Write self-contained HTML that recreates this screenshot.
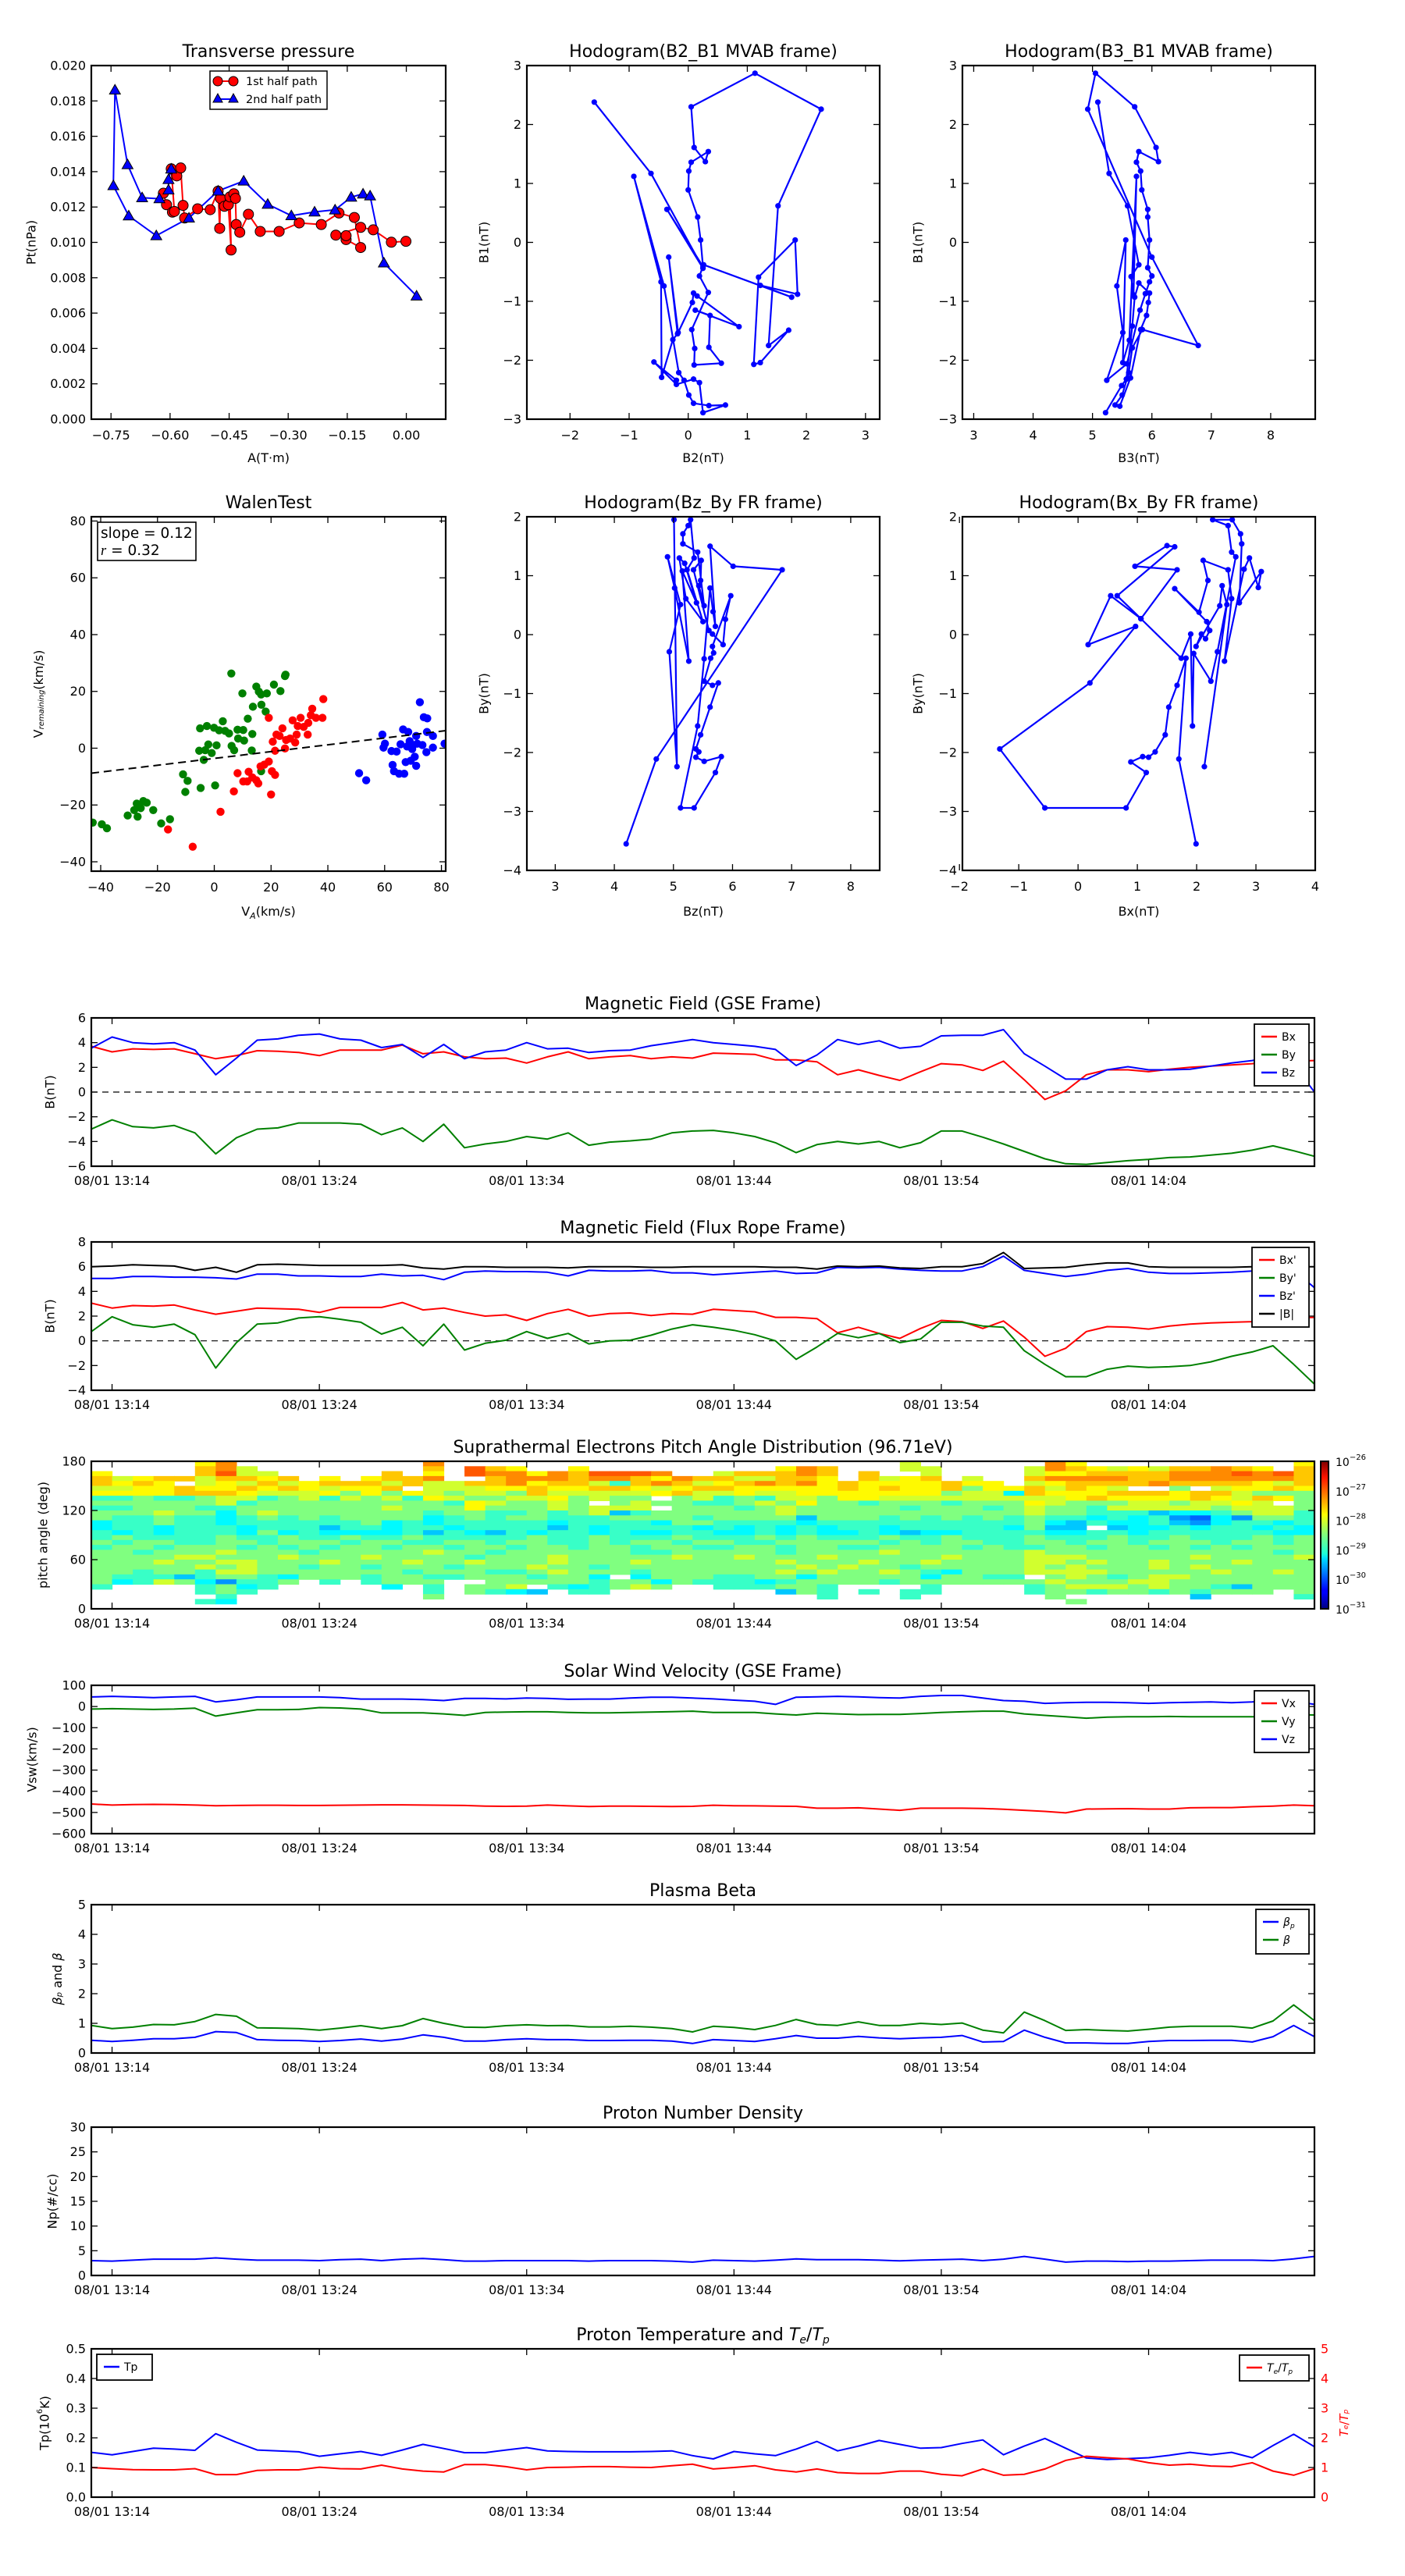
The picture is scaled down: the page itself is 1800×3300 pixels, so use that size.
<!DOCTYPE html>
<html><head><meta charset="utf-8"><title>Flux rope analysis</title>
<style>
html,body{margin:0;padding:0;background:#fff;}
svg{display:block;font-family:"DejaVu Sans","Liberation Sans",sans-serif;}
</style></head>
<body>
<svg id="fig" xmlns="http://www.w3.org/2000/svg" width="1800" height="3300" viewBox="0 0 1800 3300">
<defs>
<linearGradient id="jet" x1="0" y1="1" x2="0" y2="0">
<stop offset="0" stop-color="#00007f"/><stop offset="0.11" stop-color="#0000ff"/><stop offset="0.125" stop-color="#0000ff"/>
<stop offset="0.34" stop-color="#00dcff"/><stop offset="0.375" stop-color="#1effd7"/><stop offset="0.5" stop-color="#7fff7f"/>
<stop offset="0.64" stop-color="#ffff00"/><stop offset="0.66" stop-color="#ffe600"/><stop offset="0.89" stop-color="#ff1400"/><stop offset="1" stop-color="#7f0000"/>
</linearGradient>
</defs>
</svg>
<script>
// ===================== DATA =====================
// Transverse pressure
const tp1A = [-0.617,-0.609,-0.594,-0.589,-0.597,-0.583,-0.573,-0.567,-0.563,-0.530,-0.498,-0.478,-0.474,-0.472,-0.462,-0.452,-0.445,-0.448,-0.438,-0.434,-0.432,-0.423,-0.401,-0.371,-0.323,-0.272,-0.216,-0.171,-0.132,-0.116,-0.153,-0.153,-0.179,-0.116,-0.084,-0.038,-0.001];
const tp1P = [0.01278,0.01213,0.01171,0.01175,0.01416,0.01376,0.01421,0.01209,0.01138,0.01190,0.01185,0.01290,0.01079,0.01249,0.01204,0.01213,0.00957,0.01257,0.01275,0.01249,0.01101,0.01057,0.01159,0.01062,0.01062,0.01110,0.01101,0.01166,0.01141,0.00971,0.01016,0.01038,0.01041,0.01085,0.01071,0.01001,0.01006];
const tp2A = [-0.597,-0.604,-0.604,-0.627,-0.671,-0.708,-0.740,-0.744,-0.705,-0.635,-0.552,-0.478,-0.413,-0.352,-0.292,-0.233,-0.181,-0.140,-0.110,-0.092,-0.057,0.026];
const tp2P = [0.01415,0.01356,0.01297,0.01247,0.01253,0.01440,0.01862,0.01321,0.01150,0.01038,0.01138,0.01291,0.01347,0.01216,0.01151,0.01172,0.01184,0.01256,0.01274,0.01263,0.00884,0.00697];
// Hodogram B2-B1
const h1x = [-1.59,-0.63,0.25,-0.36,0.25,0.21,0.16,0.00,0.01,0.05,0.34,0.29,0.10,0.05,1.13,2.25,1.52,1.36,1.70,1.22,1.11,1.19,1.81,1.85,1.22,1.75,0.26,0.19,0.34,0.06,0.11,0.10,0.56,0.35,0.37,0.12,0.86,0.15,0.09,0.07,-0.17,-0.33,-0.18,-0.26,-0.45,-0.46,-0.92,-0.41,-0.16,-0.07,0.01,0.09,0.35,0.63,0.25,0.19,0.09,-0.20,-0.58,-0.20];
const h1y = [2.38,1.17,-0.44,0.56,-0.41,0.04,0.43,0.89,1.21,1.36,1.54,1.37,1.61,2.30,2.87,2.26,0.62,-1.75,-1.49,-2.04,-2.07,-0.59,0.04,-0.88,-0.73,-0.93,-0.38,-0.57,-0.85,-1.48,-1.80,-2.08,-2.05,-1.78,-1.24,-1.15,-1.43,-0.91,-0.86,-1.02,-1.53,-0.25,-1.55,-1.65,-2.29,-0.67,1.12,-0.74,-2.21,-2.34,-2.59,-2.73,-2.77,-2.76,-2.89,-2.38,-2.32,-2.41,-2.03,-2.34];
// Hodogram B3-B1
const h2x = [5.09,5.28,5.59,5.78,5.65,5.69,5.74,5.62,5.51,5.56,5.41,5.51,5.24,5.58,5.80,5.89,5.96,6.00,5.93,5.96,5.93,5.93,5.83,5.81,5.74,5.78,6.11,6.07,5.71,5.05,4.92,6.00,6.78,5.84,5.67,5.61,5.50,5.38,5.46,5.64,5.81,5.91,5.94,5.96,5.78,5.71,5.67,5.57,5.49,5.22];
const h2y = [2.38,1.17,0.62,-0.38,-0.58,-0.89,1.12,-1.66,-2.04,0.04,-0.74,-1.53,-2.34,-2.06,-1.15,-0.87,-0.67,-0.57,-0.43,0.04,0.43,0.56,0.89,1.21,1.36,1.54,1.37,1.61,2.30,2.87,2.26,-0.25,-1.75,-1.48,-1.79,-2.21,-2.59,-2.76,-2.78,-2.30,-1.48,-1.24,-1.02,-0.86,-0.69,-0.93,-1.42,-2.32,-2.43,-2.89];
// Walen test
const walGx = [-42.8,-39.6,-37.8,-30.5,-28.2,-27.0,-27.3,-25.9,-25.0,-23.8,-21.5,-18.7,-15.6,-11.0,-9.4,-10.2,-4.8,0.3,-3.7,-5.3,-3.2,-0.9,-2.1,0.8,-5.0,-2.6,-0.1,1.7,3.0,3.8,5.2,6.1,7.0,8.2,8.4,10.2,10.5,11.8,13.4,13.2,13.6,16.6,18.1,6.0,9.9,14.8,15.7,16.5,18.5,21.0,23.3,25.1,24.9,16.5];
const walGy = [-26.2,-26.8,-28.2,-23.7,-21.8,-24.1,-19.5,-21.1,-18.6,-19.2,-21.8,-26.5,-25.0,-9.2,-11.5,-15.4,-14.0,-13.1,-4.1,-0.9,-0.7,-1.7,1.3,1.0,7.0,7.8,7.2,6.3,9.5,6.1,5.2,0.8,-0.7,6.5,3.4,6.4,2.7,10.4,5.0,-0.8,14.6,15.3,12.9,26.3,19.3,21.7,19.9,18.9,19.3,22.4,20.1,25.9,25.4,-8.1];
const walRx = [-16.3,-7.6,2.2,6.9,8.2,10.2,11.6,12.1,13.4,14.8,15.5,16.3,17.6,19.2,20.3,21.4,20.0,19.2,20.6,21.4,21.9,24.0,24.9,23.0,25.3,26.7,27.6,28.5,29.0,29.4,30.4,31.5,32.9,33.1,34.5,34.0,35.8,38.1,38.4];
const walRy = [-28.6,-34.7,-22.4,-15.2,-8.8,-11.7,-11.7,-8.3,-10.3,-11.3,-12.4,-6.4,-5.8,-4.7,-8.1,-9.4,-16.3,10.7,2.3,-0.9,4.8,7.0,-0.1,4.3,2.9,3.4,9.8,2.0,4.8,7.8,10.7,7.5,4.8,8.9,13.9,11.6,10.7,10.7,17.3];
const walBx = [51.0,53.5,59.2,60.1,59.6,62.4,62.8,63.3,65.1,66.9,65.6,66.5,68.3,68.8,69.7,70.6,71.1,71.1,72.4,73.8,75.0,74.9,77.0,77.0,74.7,73.3,71.5,69.2,67.4,64.2,81.1,67.9,70.1];
const walBy = [-8.8,-11.3,4.8,1.6,0.2,-1.0,-5.9,-8.1,-9.0,-9.0,1.4,6.6,5.7,2.5,-0.3,-3.0,-6.2,4.3,16.2,10.9,10.5,5.7,4.3,0.2,-1.4,1.1,1.6,-4.4,-4.9,-1.2,1.6,0.6,1.1];
const walenSlope = 0.12;
const walenIntercept = -3.6;
// Hodogram Bz-By FR
const h3x = [5.01,5.06,4.93,5.12,4.90,5.02,5.26,5.15,5.39,5.19,5.10,5.21,5.50,5.23,5.35,5.29,5.25,5.16,5.16,5.41,5.52,5.43,5.46,5.47,5.34,5.60,5.66,5.84,5.88,5.97,5.66,5.68,5.63,5.52,5.66,5.76,5.62,5.46,5.38,5.43,5.38,5.52,5.81,5.71,5.35,5.12,5.41,5.52,5.62,5.67,5.71,5.62,6.01,6.84,4.71,4.20];
const h3y = [1.95,-2.24,-0.29,0.51,1.32,0.79,-0.45,1.08,0.54,1.21,1.30,0.61,0.22,1.10,1.30,1.95,1.85,1.71,1.54,1.40,0.49,0.83,0.92,1.26,1.10,0.07,0.01,-0.17,0.26,0.66,-0.20,-0.31,-0.40,-0.79,-0.86,-0.82,-1.23,-1.70,-1.94,-1.99,-2.08,-2.15,-2.07,-2.34,-2.94,-2.94,-1.55,-0.41,0.79,0.39,0.14,1.50,1.16,1.10,-2.11,-3.55];
// Hodogram Bx-By FR
const h4x = [1.99,1.70,1.82,1.67,1.53,1.47,1.30,1.19,1.09,0.89,1.15,0.81,-0.56,-1.32,0.20,0.97,0.17,0.55,1.06,0.66,1.63,1.50,0.96,1.67,1.06,1.74,1.90,1.93,1.95,2.24,2.35,2.66,2.59,2.53,2.27,2.60,2.74,2.76,2.72,3.09,3.04,2.89,2.80,2.47,2.59,2.53,2.11,2.19,2.04,1.63,2.17,2.22,2.15,2.08,1.99,2.39,2.43,2.51,2.13];
const h4y = [-3.55,-2.11,-0.40,-0.86,-1.23,-1.70,-1.99,-2.08,-2.07,-2.16,-2.34,-2.94,-2.94,-1.94,-0.82,0.14,-0.17,0.66,0.27,0.66,1.49,1.51,1.16,1.10,0.27,-0.40,0.01,-1.55,-0.32,-0.79,-0.29,1.32,1.40,1.85,1.95,1.95,1.71,1.54,0.54,1.07,0.80,1.30,1.11,-0.45,0.61,1.10,1.26,0.92,0.38,0.78,0.22,0.07,-0.07,0.01,-0.20,0.49,0.83,0.51,-2.24];

// ---- time series (minutes relative to 13:14) ----
const timeMin = [-1,0,1,2,3,4,5,6,7,8,9,10,11,12,13,14,15,16,17,18,19,20,21,22,23,24,25,26,27,28,29,30,31,32,33,34,35,36,37,38,39,40,41,42,43,44,45,46,47,48,49,50,51,52,53,54,55,56,57,58];
const timeTickMin = [0,10,20,30,40,50];
const timeTickLabels = ["08/01 13:14","08/01 13:24","08/01 13:34","08/01 13:44","08/01 13:54","08/01 14:04"];
const gseBx = [3.7,3.25,3.5,3.45,3.5,3.1,2.7,2.95,3.35,3.3,3.2,2.95,3.4,3.4,3.4,3.8,3.1,3.25,2.85,2.7,2.75,2.35,2.85,3.25,2.7,2.85,2.95,2.7,2.85,2.75,3.15,3.1,3.05,2.6,2.6,2.45,1.4,1.8,1.35,0.95,1.65,2.3,2.2,1.75,2.5,1.0,-0.6,0.1,1.4,1.8,1.8,1.65,1.85,2.0,2.1,2.2,2.3,2.45,2.5,2.55];
const gseBy = [-3.0,-2.25,-2.8,-2.9,-2.7,-3.3,-5.0,-3.7,-3.0,-2.9,-2.5,-2.5,-2.5,-2.6,-3.45,-2.9,-4.0,-2.6,-4.5,-4.2,-4.0,-3.6,-3.8,-3.3,-4.3,-4.05,-3.95,-3.8,-3.3,-3.15,-3.1,-3.3,-3.6,-4.1,-4.9,-4.25,-4.0,-4.2,-4.0,-4.5,-4.1,-3.15,-3.15,-3.65,-4.2,-4.8,-5.4,-5.8,-5.85,-5.7,-5.55,-5.45,-5.3,-5.25,-5.1,-4.95,-4.7,-4.35,-4.75,-5.2];
const gseBz = [3.55,4.45,4.0,3.9,4.0,3.4,1.4,2.75,4.2,4.3,4.6,4.7,4.3,4.2,3.6,3.85,2.8,3.85,2.7,3.25,3.4,4.0,3.5,3.55,3.2,3.35,3.4,3.75,4.0,4.25,4.0,3.85,3.7,3.45,2.15,3.0,4.25,3.85,4.15,3.55,3.7,4.55,4.6,4.6,5.05,3.1,2.1,1.05,1.05,1.8,2.05,1.8,1.8,1.85,2.1,2.35,2.55,2.9,2.25,0.0];
const frBx = [3.05,2.65,2.85,2.8,2.9,2.5,2.15,2.4,2.65,2.6,2.55,2.3,2.7,2.7,2.7,3.1,2.5,2.65,2.3,2.0,2.1,1.65,2.2,2.55,2.0,2.2,2.25,2.05,2.2,2.15,2.55,2.45,2.35,1.9,1.9,1.8,0.65,1.1,0.6,0.2,1.0,1.65,1.55,1.0,1.6,0.3,-1.25,-0.6,0.75,1.15,1.1,0.95,1.2,1.35,1.45,1.5,1.55,1.7,1.85,1.9];
const frBy = [0.75,1.95,1.3,1.1,1.35,0.5,-2.2,-0.15,1.35,1.45,1.85,1.95,1.75,1.5,0.55,1.1,-0.4,1.35,-0.75,-0.2,0.05,0.75,0.2,0.6,-0.25,0.0,0.05,0.45,0.95,1.3,1.1,0.85,0.5,0.0,-1.5,-0.5,0.6,0.25,0.6,-0.15,0.15,1.5,1.5,1.2,1.1,-0.8,-1.9,-2.9,-2.9,-2.3,-2.05,-2.15,-2.1,-2.0,-1.7,-1.25,-0.9,-0.4,-1.9,-3.5];
const frBz = [5.05,5.05,5.2,5.2,5.15,5.15,5.1,5.0,5.4,5.4,5.25,5.25,5.2,5.2,5.4,5.25,5.3,4.95,5.55,5.65,5.6,5.6,5.55,5.25,5.7,5.65,5.65,5.7,5.5,5.5,5.35,5.45,5.55,5.65,5.45,5.5,5.95,5.9,5.95,5.8,5.7,5.65,5.65,6.0,6.85,5.7,5.45,5.2,5.4,5.7,5.85,5.55,5.45,5.45,5.5,5.55,5.65,5.65,5.7,4.3];
const frBt = [6.0,6.05,6.15,6.1,6.05,5.7,5.95,5.55,6.15,6.2,6.15,6.1,6.1,6.1,6.1,6.15,5.9,5.8,6.0,6.0,5.95,5.95,5.95,5.9,6.0,6.0,6.0,5.95,5.95,6.0,6.0,6.0,6.0,5.95,5.95,5.8,6.05,6.0,6.05,5.9,5.85,6.0,6.0,6.25,7.15,5.85,5.9,5.95,6.15,6.3,6.3,6.0,5.95,5.95,5.95,5.95,6.0,6.0,6.0,6.0];
const vswX = [-460,-465,-463,-462,-463,-465,-468,-467,-466,-466,-467,-467,-466,-465,-464,-464,-465,-466,-467,-470,-471,-470,-465,-469,-472,-470,-470,-471,-472,-471,-466,-468,-469,-470,-471,-480,-480,-478,-484,-490,-480,-480,-480,-481,-485,-490,-495,-502,-484,-483,-482,-484,-484,-478,-477,-477,-473,-470,-465,-468];
const vswY = [-12,-10,-12,-14,-12,-8,-45,-30,-15,-15,-14,-5,-7,-12,-30,-30,-30,-35,-42,-28,-26,-25,-25,-28,-30,-30,-28,-26,-24,-22,-28,-28,-28,-35,-40,-32,-35,-38,-37,-37,-33,-28,-25,-22,-22,-35,-42,-48,-55,-50,-48,-48,-47,-48,-48,-48,-48,-48,-38,-40];
const vswZ = [45,48,45,42,45,48,22,32,45,45,45,45,42,35,35,35,33,28,38,38,36,40,38,34,35,35,40,44,44,40,36,30,25,10,44,46,48,46,42,40,48,52,52,40,28,25,15,18,20,20,18,15,18,20,22,18,22,30,25,10];
const betaTot = [0.93,0.82,0.87,0.96,0.95,1.06,1.3,1.24,0.85,0.84,0.82,0.77,0.84,0.92,0.82,0.92,1.16,1.0,0.87,0.86,0.92,0.95,0.92,0.93,0.88,0.88,0.9,0.87,0.82,0.71,0.9,0.86,0.79,0.93,1.13,0.96,0.93,1.05,0.93,0.93,1.0,0.96,1.01,0.77,0.68,1.38,1.09,0.76,0.79,0.76,0.74,0.8,0.87,0.9,0.9,0.9,0.84,1.08,1.62,1.09];
const betaP = [0.43,0.39,0.43,0.48,0.48,0.53,0.72,0.69,0.45,0.43,0.42,0.39,0.42,0.47,0.4,0.47,0.61,0.53,0.4,0.4,0.45,0.48,0.45,0.45,0.42,0.42,0.43,0.43,0.4,0.32,0.45,0.42,0.39,0.48,0.59,0.5,0.5,0.56,0.51,0.48,0.51,0.53,0.59,0.37,0.39,0.77,0.53,0.34,0.34,0.32,0.32,0.39,0.42,0.42,0.43,0.43,0.37,0.55,0.93,0.55];
const npDens = [3.0,2.9,3.1,3.3,3.3,3.3,3.55,3.3,3.1,3.1,3.1,3.0,3.2,3.3,3.0,3.3,3.45,3.2,2.9,2.9,3.0,3.0,3.0,3.0,2.9,3.0,3.0,3.0,2.9,2.7,3.1,3.0,2.9,3.1,3.35,3.2,3.2,3.2,3.1,2.95,3.1,3.2,3.3,3.0,3.3,3.85,3.3,2.7,2.9,2.9,2.8,2.9,2.9,3.0,3.1,3.1,3.1,3.0,3.35,3.85];
const tempP = [0.151,0.143,0.154,0.165,0.162,0.158,0.214,0.185,0.159,0.156,0.153,0.138,0.146,0.154,0.141,0.159,0.178,0.164,0.15,0.15,0.159,0.167,0.156,0.154,0.153,0.153,0.153,0.154,0.156,0.14,0.129,0.154,0.146,0.14,0.162,0.188,0.156,0.172,0.191,0.178,0.165,0.167,0.181,0.193,0.143,0.172,0.198,0.165,0.132,0.127,0.13,0.133,0.141,0.151,0.143,0.151,0.133,0.174,0.212,0.17];
const teTp = [1.0,0.96,0.93,0.92,0.92,0.96,0.76,0.76,0.9,0.92,0.92,1.01,0.96,0.95,1.08,0.95,0.88,0.85,1.1,1.1,1.03,0.92,1.0,1.01,1.03,1.03,1.01,1.0,1.06,1.11,0.95,1.0,1.06,0.92,0.85,0.95,0.83,0.8,0.8,0.88,0.88,0.77,0.72,0.95,0.74,0.77,0.95,1.24,1.38,1.33,1.29,1.16,1.08,1.11,1.05,1.03,1.16,0.88,0.74,0.96];
// Pitch angle distribution: rows from 174-180 deg (top) down to 0-6 deg; 59 time bins; '.' = no data
const padRows = [
".....79...........9..............................6...........97...............7",
];
const padRowsData = [
".....".concat("79...",".....",".9...",".....",".....",".....","....6",".....",".97..",".....","...7"),
".....".concat("896..",".....",".8.A8","7..7.",".....","...79","8...6","6....","69876","76889","87.8"),
"7....".concat("8A66.","....8",".7.A9","9798A","AA9..","68889","8.8..","6....","67788","88999","A9A8"),
"86788".concat("68878",".7.78","89..8","99989","98798","86688","7.867","8.6..","89999","88999","9998"),
"8787.".concat("67686","78886","86688","97886","48986","78989","78777","7877.","67888","89888","8768"),
"66778".concat("77878","76778",".6667","78778","87678","87777","78787","78577","86876","..5.6","7787"),
"77778".concat("88766","67575","76566","58666","66786","67667","77777","75663","87778","88788","6555"),
"44544".concat("56645","64656","47655","66756","55.56","45466","57766","66666","66787","77787","6875"),
"55555".concat("56455","55555","55476","5565.","56554","45657","55455","54555","76555","66566","76.5"),
"44555".concat("44555","55556","55575","55656","66.55","54565","55554","55545","65546","66665","6665"),
"55565".concat("53565","55555","54554","45456","24555","55565","55555","55555","65544","42334","5664"),
"54454".concat("43454","54555","53454","55444","55554","55552","55545","45454","54434","34103","1554"),
"34454".concat("43444","44453","43444","44344","44355","44443","44444","44444","53243","34213","4434"),
"34434".concat("44344","42443","44344","44243","44443","43434","34434","44443","522.2","33434","4343"),
"43434".concat("44353","43333","42432","43443","43344","33434","33432","33444","43344","34444","4433"),
"45444".concat("45445","44544","54444","45445","44454","44545","44454","45444","54445","44544","4545"),
"54554".concat("45545","55455","44554","55445","45545","54455","55545","45544","55455","45554","5545"),
"45545".concat("55454","54554","55455","45545","54554","45545","54455","55454","45545","54545","4555"),
"55455".concat("56555","45555","56554","55555","54455","55545","55565","55555","65555","55555","5545"),
"55556".concat("65556","55565","55545","55655","55565","56555","65555","56555","66655","55565","5556"),
"55565".concat("56655","56555","65565","55655","56555","55565","55655","65555","66565","56555","6555"),
"55555".concat("65655","45545","55455","56554","55555","55556","56554","55555","65655","56565","5555"),
"55455".concat("46655","55555","45554","45655","54555","55565","65565","43555","66665","55556","5565"),
"54442".concat("45543","55545","54455","54553",".3555","44553","55555","35544",".5654","56655","5555"),
"53465".concat("31445",".4.45","55..5","55554","55354","44345","55545","55555","56555","66555","5555"),
"4....".concat("4534.","....3",".4.55","6.434","565..","44455","4....","4....","45666","56554","2555"),
".....".concat("454..",".....",".4.54","32.44",".....","...25","4.4.4","4....","45545","54545","55.5"),
".....".concat(".4...",".....",".5...",".....",".....",".....","4...4",".....",".5...","...2.","...4"),
".....".concat("43...",".....",".....",".....",".....",".....",".....",".....","..5..",".....","...."),
".....".concat(".....",".....",".....",".....",".....",".....",".....",".....",".....",".....","....")
];
// log10 of flux for each encoded level
const padLevelCodes = ["0","1","2","3","4","5","6","7","8","9","A"];
const padLevelLog = [-29.9,-29.65,-29.4,-29.15,-28.85,-28.5,-28.1,-27.85,-27.6,-27.3,-27.05];
const cbTickExp = [-26,-27,-28,-29,-30,-31];

// ===================== DRAWING =====================
const NS = 'http://www.w3.org/2000/svg';
const svg = document.getElementById('fig');
function mk(tag, attrs, parent){
  const e = document.createElementNS(NS, tag);
  for (const k in attrs) e.setAttribute(k, attrs[k]);
  (parent || svg).appendChild(e);
  return e;
}
const MINUS = '\u2212';
function fmtNum(v, d){ const s = v.toFixed(d); return s.replace('-', MINUS); }

let clipId = 0;
function makeAxes(name, x, y, w, h, xr, yr){
  const g = mk('g', {});
  
  
  const id = 'clip' + (clipId++);
  const cp = mk('clipPath', {id: id}, g);
  mk('rect', {x: x, y: y, width: w, height: h}, cp);
  const plot = mk('g', {'clip-path': 'url(#' + id + ')'}, g);
  
  
  return {g: g, plot: plot, x: x, y: y, w: w, h: h,
    sx: v => x + (v - xr[0]) / (xr[1] - xr[0]) * w,
    sy: v => y + h - (v - yr[0]) / (yr[1] - yr[0]) * h};
}
function frame(ax){
  const r = mk('rect', {x: ax.x, y: ax.y, width: ax.w, height: ax.h, fill: 'none', stroke: '#000', 'stroke-width': 2.2}, ax.g);
  
  
}
function yTicks(ax, vals, labels, opts){
  opts = opts || {};
  const L = 8;
  vals.forEach((v, i) => {
    const py = ax.sy(v);
    mk('line', {x1: ax.x, y1: py, x2: ax.x + L, y2: py, stroke: '#000', 'stroke-width': 1.3}, ax.g);
    mk('line', {x1: ax.x + ax.w, y1: py, x2: ax.x + ax.w - L, y2: py, stroke: '#000', 'stroke-width': 1.3}, ax.g);
    if (labels) {
      const t = mk('text', {x: ax.x - 7, y: py, 'text-anchor': 'end', 'dominant-baseline': 'central', 'font-size': opts.fs || 16, fill: '#000'}, ax.g);
      
      
      t.textContent = labels[i];
    }
  });
}
function xTicks(ax, vals, labels, opts){
  opts = opts || {};
  const L = 8;
  vals.forEach((v, i) => {
    const px = ax.sx(v);
    mk('line', {x1: px, y1: ax.y + ax.h, x2: px, y2: ax.y + ax.h - L, stroke: '#000', 'stroke-width': 1.3}, ax.g);
    mk('line', {x1: px, y1: ax.y, x2: px, y2: ax.y + L, stroke: '#000', 'stroke-width': 1.3}, ax.g);
    if (labels) {
      const t = mk('text', {x: px, y: ax.y + ax.h + (opts.dy || 24), 'text-anchor': 'middle', 'font-size': opts.fs || 16, fill: '#000'}, ax.g);
      
      
      t.textContent = labels[i];
    }
  });
}
function title(ax, txt){
  const t = mk('text', {x: ax.x + ax.w / 2, y: ax.y - 11, 'text-anchor': 'middle', 'font-size': 22, fill: '#000'}, ax.g);
  
  
  t.textContent = txt;
  return t;
}
function xLabel(ax, txt, y){
  const t = mk('text', {x: ax.x + ax.w / 2, y: y, 'text-anchor': 'middle', 'font-size': 16, fill: '#000'}, ax.g);
  
  
  t.textContent = txt;
  return t;
}
function yLabel(ax, txt, x, color){
  const cy = ax.y + ax.h / 2;
  const t = mk('text', {x: x, y: cy, 'text-anchor': 'middle', 'dominant-baseline': 'central', 'font-size': 16, fill: color || '#000', transform: 'rotate(-90 ' + x + ' ' + cy + ')'}, ax.g);
  
  
  t.textContent = txt;
  return t;
}
function polyline(ax, xs, ys, color, name, w){
  let d = '';
  xs.forEach((v, i) => { d += (i ? 'L' : 'M') + ax.sx(v).toFixed(1) + ' ' + ax.sy(ys[i]).toFixed(1); });
  const p = mk('path', {d: d, fill: 'none', stroke: color, 'stroke-width': w || 2, 'stroke-linejoin': 'round'}, ax.plot);
  
  
  return p;
}
function dots(ax, xs, ys, color, r, name, stroke){
  const g = mk('g', {}, ax.plot);
  
  
  xs.forEach((v, i) => {
    const c = mk('circle', {cx: ax.sx(v), cy: ax.sy(ys[i]), r: r, fill: color, stroke: stroke || 'none', 'stroke-width': 1}, g);
    
    
  });
}
function tris(ax, xs, ys, color, s, name){
  const g = mk('g', {}, ax.plot);
  
  
  xs.forEach((v, i) => {
    const cx = ax.sx(v), cy = ax.sy(ys[i]);
    const p = mk('polygon', {points: cx + ',' + (cy - s) + ' ' + (cx - s) + ',' + (cy + s * 0.75) + ' ' + (cx + s) + ',' + (cy + s * 0.75), fill: color, stroke: '#000', 'stroke-width': 1}, g);
    
    
  });
}
function range(a, b, s){ const r = []; for (let v = a; v <= b + 1e-9; v += s) r.push(Math.round(v * 1000) / 1000); return r; }

// ---------- Transverse pressure ----------
{
  const ax = makeAxes('transverse-pressure-chart', 117, 84, 454, 453, [-0.8, 0.1], [0, 0.020]);
  const yt = range(0, 0.020, 0.002);
  yTicks(ax, yt, yt.map(v => v.toFixed(3)));
  const xt = [-0.75, -0.60, -0.45, -0.30, -0.15, 0.00];
  xTicks(ax, xt, xt.map(v => fmtNum(v, 2)), {dy: 26});
  polyline(ax, tp1A, tp1P, '#ff0000', 'first-half-path-line', 2);
  polyline(ax, tp2A, tp2P, '#0000ff', 'second-half-path-line', 2);
  dots(ax, tp1A, tp1P, '#ff0000', 6.5, 'first-half-path', '#000');
  tris(ax, tp2A, tp2P, '#0000ff', 7, 'second-half-path');
  frame(ax);
  title(ax, 'Transverse pressure');
  xLabel(ax, 'A(T\u00b7m)', 592);
  yLabel(ax, 'Pt(nPa)', 40);
  const lg = mk('g', {}, ax.g);
  
  
  mk('rect', {x: 269, y: 91, width: 150, height: 49, fill: '#fff', stroke: '#000', 'stroke-width': 1.5}, lg);
  mk('line', {x1: 279, y1: 104, x2: 299, y2: 104, stroke: '#ff0000', 'stroke-width': 2}, lg);
  mk('circle', {cx: 279, cy: 104, r: 6, fill: '#ff0000', stroke: '#000'}, lg);
  mk('circle', {cx: 299, cy: 104, r: 6, fill: '#ff0000', stroke: '#000'}, lg);
  const t1 = mk('text', {x: 315, y: 109, 'font-size': 14.5}, lg);
  
  
  t1.textContent = '1st half path';
  mk('line', {x1: 279, y1: 127, x2: 299, y2: 127, stroke: '#0000ff', 'stroke-width': 2}, lg);
  mk('polygon', {points: '279,120 273,131 285,131', fill: '#0000ff', stroke: '#000'}, lg);
  mk('polygon', {points: '299,120 293,131 305,131', fill: '#0000ff', stroke: '#000'}, lg);
  const t2 = mk('text', {x: 315, y: 132, 'font-size': 14.5}, lg);
  
  
  t2.textContent = '2nd half path';
}
// ---------- Hodograms ----------
function hodo(name, x, y, xr, yr, xt, yt, xs, ys, ttl, xl, yl, xlY, ylX, tickDy){
  const ax = makeAxes(name, x, y, 452, 453, xr, yr);
  yTicks(ax, yt, yt.map(v => fmtNum(v, 0)));
  xTicks(ax, xt, xt.map(v => fmtNum(v, 0)), {dy: tickDy});
  polyline(ax, xs, ys, '#0000ff', 'hodogram-path', 2.2);
  dots(ax, xs, ys, '#0000ff', 3.6, 'hodogram');
  frame(ax);
  title(ax, ttl);
  xLabel(ax, xl, xlY);
  yLabel(ax, yl, ylX);
}
hodo('hodogram-b2-b1-chart', 675, 84, [-2.73, 3.24], [-3, 3], [-2,-1,0,1,2,3], [-3,-2,-1,0,1,2,3], h1x, h1y, 'Hodogram(B2_B1 MVAB frame)', 'B2(nT)', 'B1(nT)', 592, 620, 26);
hodo('hodogram-b3-b1-chart', 1233, 84, [2.81, 8.75], [-3, 3], [3,4,5,6,7,8], [-3,-2,-1,0,1,2,3], h2x, h2y, 'Hodogram(B3_B1 MVAB frame)', 'B3(nT)', 'B1(nT)', 592, 1176, 26);
hodo('hodogram-bz-by-chart', 675, 662, [2.52, 8.49], [-4, 2], [3,4,5,6,7,8], [-4,-3,-2,-1,0,1,2], h3x, h3y, 'Hodogram(Bz_By FR frame)', 'Bz(nT)', 'By(nT)', 1173, 620, 26);
hodo('hodogram-bx-by-chart', 1233, 662, [-1.95, 4.0], [-4, 2], [-2,-1,0,1,2,3,4], [-4,-3,-2,-1,0,1,2], h4x, h4y, 'Hodogram(Bx_By FR frame)', 'Bx(nT)', 'By(nT)', 1173, 1176, 26);

// ---------- Walen test ----------
{
  const ax = makeAxes('walen-test-chart', 117, 662, 454, 454, [-43.3, 81.5], [-43.3, 81.5]);
  const t = range(-40, 80, 20);
  yTicks(ax, t, t.map(v => fmtNum(v, 0)));
  xTicks(ax, t, t.map(v => fmtNum(v, 0)), {dy: 26});
  dots(ax, walGx, walGy, '#008000', 5.2, 'walen-green');
  dots(ax, walRx, walRy, '#ff0000', 5.2, 'walen-red');
  dots(ax, walBx, walBy, '#0000ff', 5.2, 'walen-blue');
  const fx = [-43.3, 81.5];
  const fy = fx.map(v => walenSlope * v + walenIntercept);
  const fl = polyline(ax, fx, fy, '#000', 'fit-line', 2);
  fl.setAttribute('stroke-dasharray', '10 6');
  frame(ax);
  title(ax, 'WalenTest');
  const xl = xLabel(ax, '', 1173);
  xl.innerHTML = 'V<tspan font-style="italic" font-size="11" dy="4">A</tspan><tspan dy="-4">(km/s)</tspan>';
  const yl = yLabel(ax, '', 49);
  yl.innerHTML = 'V<tspan font-style="italic" font-size="10" dy="4">remaining</tspan><tspan dy="-4">(km/s)</tspan>';
  const box = mk('g', {}, ax.g);
  
  
  mk('rect', {x: 125, y: 669, width: 126, height: 49, fill: '#fff', stroke: '#000', 'stroke-width': 1.6}, box);
  const s1 = mk('text', {x: 129, y: 689, 'font-size': 18.5}, box);
  
  
  s1.textContent = 'slope = 0.12';
  const s2 = mk('text', {x: 129, y: 711, 'font-size': 18.5}, box);
  
  
  s2.innerHTML = '<tspan font-style="italic" font-family="Liberation Serif, serif">r</tspan> = 0.32';
}

// ---------- time series panels ----------
const TX = 117, TW = 1567, TH = 190;
function tsAxes(name, y, yr){
  const ax = makeAxes(name, TX, y, TW, TH, [-1, 58], yr);
  xTicks(ax, timeTickMin, timeTickLabels, {dy: 24});
  return ax;
}
function legend(ax, x, y, w, entries, fs){
  const g = mk('g', {}, ax.g);
  
  
  const rowH = entries.length > 1 ? 23 : 0;
  const h = entries.length * 23 + 10;
  mk('rect', {x: x, y: y, width: w, height: h, fill: '#fff', stroke: '#000', 'stroke-width': 1.8}, g);
  entries.forEach((e, i) => {
    const cy = y + 16 + i * 23;
    mk('line', {x1: x + 9, y1: cy, x2: x + 29, y2: cy, stroke: e[1], 'stroke-width': 2.5}, g);
    const t = mk('text', {x: x + 35, y: cy + 5, 'font-size': 14}, g);
    
    
    t.innerHTML = e[0];
  });
  return g;
}
function zeroLine(ax){
  const l = mk('line', {x1: ax.x, y1: ax.sy(0), x2: ax.x + ax.w, y2: ax.sy(0), stroke: '#000', 'stroke-width': 1.2, 'stroke-dasharray': '8 6'}, ax.plot);
  
  
}
// GSE
{
  const ax = tsAxes('magnetic-field-gse-chart', 1304, [-6, 6]);
  const yt = range(-6, 6, 2);
  yTicks(ax, yt, yt.map(v => fmtNum(v, 0)));
  zeroLine(ax);
  polyline(ax, timeMin, gseBx, '#ff0000', 'bx-line');
  polyline(ax, timeMin, gseBy, '#008000', 'by-line');
  polyline(ax, timeMin, gseBz, '#0000ff', 'bz-line');
  legend(ax, 1607, 1312, 70, [['Bx', '#ff0000'], ['By', '#008000'], ['Bz', '#0000ff']]);
  frame(ax);
  title(ax, 'Magnetic Field (GSE Frame)');
  yLabel(ax, 'B(nT)', 64);
}
// Flux rope
{
  const ax = tsAxes('magnetic-field-fr-chart', 1591, [-4, 8]);
  const yt = range(-4, 8, 2);
  yTicks(ax, yt, yt.map(v => fmtNum(v, 0)));
  zeroLine(ax);
  polyline(ax, timeMin, frBx, '#ff0000', 'bx-prime-line');
  polyline(ax, timeMin, frBy, '#008000', 'by-prime-line');
  polyline(ax, timeMin, frBz, '#0000ff', 'bz-prime-line');
  polyline(ax, timeMin, frBt, '#000000', 'btotal-line');
  legend(ax, 1604, 1598, 73, [["Bx'", '#ff0000'], ["By'", '#008000'], ["Bz'", '#0000ff'], ['|B|', '#000']]);
  frame(ax);
  title(ax, 'Magnetic Field (Flux Rope Frame)');
  yLabel(ax, 'B(nT)', 64);
}
// PAD
function jet(v){
  const c = x => Math.max(0, Math.min(1, x));
  const r = c(1.5 - Math.abs(4 * v - 3)), g = c(1.5 - Math.abs(4 * v - 2)), b = c(1.5 - Math.abs(4 * v - 1));
  return 'rgb(' + Math.round(r * 255) + ',' + Math.round(g * 255) + ',' + Math.round(b * 255) + ')';
}
{
  const ax = makeAxes('pitch-angle-chart', TX, 1872, TW, 189, [0, 59], [0, 180]);
  const nRows = padRowsData.length;
  const binDeg = 180 / nRows;
  const hm = mk('g', {}, ax.plot);
  
  
  padRowsData.forEach((row, ri) => {
    const hiDeg = 180 - ri * binDeg;
    for (let ci = 0; ci < row.length && ci < 59; ci++) {
      const ch = row[ci];
      const li = padLevelCodes.indexOf(ch);
      if (li < 0) continue;
      const lg = padLevelLog[li];
      const v = (lg - (-31)) / 5;
      const x0 = ax.sx(ci), x1 = ax.sx(ci + 1);
      const y0 = ax.sy(hiDeg), y1 = ax.sy(hiDeg - binDeg);
      const cell = mk('rect', {x: x0, y: y0, width: x1 - x0 + 0.6, height: y1 - y0 + 0.6, fill: jet(v)}, hm);
      
      
    }
  });
  // time ticks (same time axis, shifted so that column index 0 = -1 min)
  timeTickMin.forEach((m, i) => {
    const px = TX + (m + 1) / 59 * TW;
    mk('line', {x1: px, y1: ax.y + ax.h, x2: px, y2: ax.y + ax.h - 8, stroke: '#000', 'stroke-width': 1.3}, ax.g);
    mk('line', {x1: px, y1: ax.y, x2: px, y2: ax.y + 8, stroke: '#000', 'stroke-width': 1.3}, ax.g);
    const t = mk('text', {x: px, y: ax.y + ax.h + 24, 'text-anchor': 'middle', 'font-size': 16}, ax.g);
    
    
    t.textContent = timeTickLabels[i];
  });
  const yt = [0, 60, 120, 180];
  yTicks(ax, yt, yt.map(v => String(v)));
  frame(ax);
  title(ax, 'Suprathermal Electrons Pitch Angle Distribution (96.71eV)');
  yLabel(ax, 'pitch angle (deg)', 55);
  // colorbar
  const cb = mk('g', {}, svg);
  
  
  mk('rect', {x: 1692, y: 1872, width: 10, height: 189, fill: 'url(#jet)', stroke: '#000', 'stroke-width': 2}, cb);
  cbTickExp.forEach((e, i) => {
    const py = 1872 + i * 189 / (cbTickExp.length - 1);
    const t = mk('text', {x: 1711, y: py + 6, 'font-size': 14}, cb);
    
    
    t.innerHTML = '10<tspan font-size="10" dy="-8">' + MINUS + (-e) + '</tspan>';
  });
}
// Vsw
{
  const ax = tsAxes('solar-wind-velocity-chart', 2159, [-600, 100]);
  const yt = range(-600, 100, 100);
  yTicks(ax, yt, yt.map(v => fmtNum(v, 0)));
  polyline(ax, timeMin, vswX, '#ff0000', 'vx-line');
  polyline(ax, timeMin, vswY, '#008000', 'vy-line');
  polyline(ax, timeMin, vswZ, '#0000ff', 'vz-line');
  legend(ax, 1607, 2166, 70, [['Vx', '#ff0000'], ['Vy', '#008000'], ['Vz', '#0000ff']]);
  frame(ax);
  title(ax, 'Solar Wind Velocity (GSE Frame)');
  yLabel(ax, 'Vsw(km/s)', 41);
}
// Beta
{
  const ax = tsAxes('plasma-beta-chart', 2440, [0, 5]);
  const yt = range(0, 5, 1);
  yTicks(ax, yt, yt.map(v => fmtNum(v, 0)));
  polyline(ax, timeMin, betaTot, '#008000', 'beta-line');
  polyline(ax, timeMin, betaP, '#0000ff', 'beta-p-line');
  const lg = legend(ax, 1609, 2446, 68, [['<tspan font-style="italic">\u03b2</tspan><tspan font-style="italic" font-size="9" dy="3">p</tspan>', '#0000ff'], ['<tspan font-style="italic">\u03b2</tspan>', '#008000']]);
  lg.querySelector('rect').setAttribute('height', 57);
  frame(ax);
  title(ax, 'Plasma Beta');
  const yl = yLabel(ax, '', 73);
  yl.innerHTML = '<tspan font-style="italic">\u03b2</tspan><tspan font-style="italic" font-size="10" dy="3">p</tspan><tspan dy="-3"> and </tspan><tspan font-style="italic">\u03b2</tspan>';
}
// Np
{
  const ax = tsAxes('proton-density-chart', 2725, [0, 30]);
  const yt = range(0, 30, 5);
  yTicks(ax, yt, yt.map(v => fmtNum(v, 0)));
  polyline(ax, timeMin, npDens, '#0000ff', 'np-line');
  frame(ax);
  title(ax, 'Proton Number Density');
  yLabel(ax, 'Np(#/cc)', 67);
}
// Tp and Te/Tp
{
  const ax = tsAxes('proton-temperature-chart', 3009, [0, 0.5]);
  const yt = range(0, 0.5, 0.1);
  yTicks(ax, yt, yt.map(v => v.toFixed(1)));
  polyline(ax, timeMin, tempP, '#0000ff', 'tp-line');
  const sy2 = v => ax.y + ax.h - v / 5 * ax.h;
  let d = '';
  timeMin.forEach((m, i) => { d += (i ? 'L' : 'M') + ax.sx(m).toFixed(1) + ' ' + sy2(teTp[i]).toFixed(1); });
  const rl = mk('path', {d: d, fill: 'none', stroke: '#ff0000', 'stroke-width': 2}, ax.plot);
  
  
  [0, 1, 2, 3, 4, 5].forEach(v => {
    const t = mk('text', {x: ax.x + ax.w + 8, y: sy2(v), 'dominant-baseline': 'central', 'font-size': 16, fill: '#ff0000'}, ax.g);
    
    
    t.textContent = String(v);
  });
  legend(ax, 124, 3016, 71, [['Tp', '#0000ff']]);
  const l2 = legend(ax, 1588, 3017, 89, [['<tspan font-style="italic">T</tspan><tspan font-style="italic" font-size="9" dy="3">e</tspan><tspan dy="-3">/</tspan><tspan font-style="italic">T</tspan><tspan font-style="italic" font-size="9" dy="3">p</tspan>', '#ff0000']]);
  frame(ax);
  const tt = title(ax, '');
  tt.innerHTML = 'Proton Temperature and <tspan font-style="italic">T</tspan><tspan font-style="italic" font-size="14" dy="4">e</tspan><tspan dy="-4">/</tspan><tspan font-style="italic">T</tspan><tspan font-style="italic" font-size="14" dy="4">p</tspan>';
  const yl = yLabel(ax, '', 57);
  yl.innerHTML = 'Tp(10<tspan font-size="10" dy="-6">6</tspan><tspan dy="6">K)</tspan>';
  const yr = yLabel(ax, '', 1722, '#ff0000');
  yr.setAttribute('font-size', 15);
  yr.innerHTML = '<tspan font-style="italic">T</tspan><tspan font-style="italic" font-size="9" dy="3">e</tspan><tspan dy="-3">/</tspan><tspan font-style="italic">T</tspan><tspan font-style="italic" font-size="9" dy="3">p</tspan>';
}
</script>
</body></html>
